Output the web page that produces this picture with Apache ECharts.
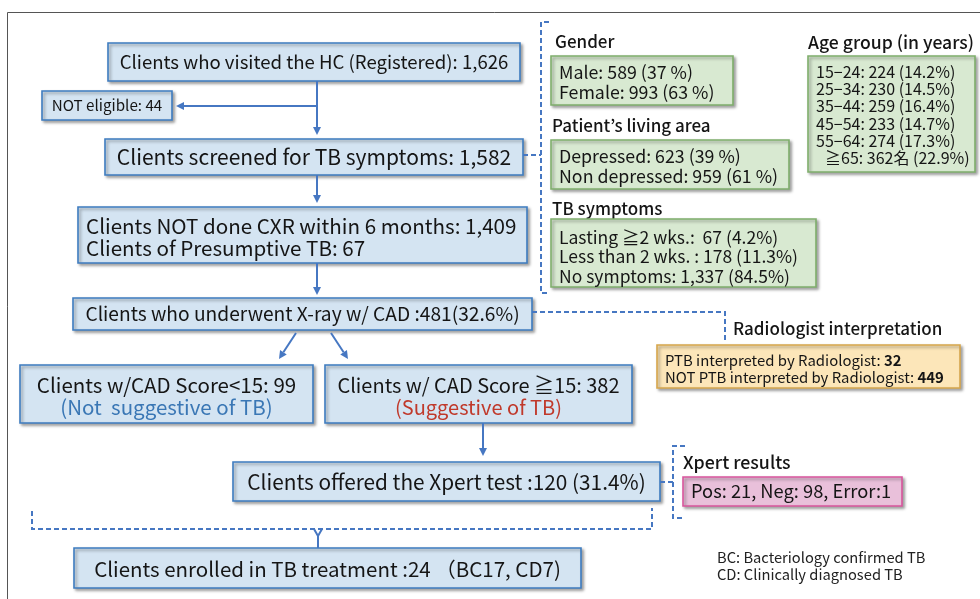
<!DOCTYPE html>
<html>
<head>
<meta charset="utf-8">
<script src="https://cdn.jsdelivr.net/npm/echarts@6/dist/echarts.min.js"></script>
<style>
html,body{margin:0;padding:0;background:#fff;}
#c{width:980px;height:599px;}
</style>
</head>
<body>
<div id="c"></div>
<script>
// ---------- DATA (texts / values) ----------
const registeredText = ['Clients who visited the HC (Registered): 1,626'];
const notEligibleText = ['NOT eligible: 44'];
const screenedText = ['Clients screened for TB symptoms: 1,582'];
const cxrText = ['Clients NOT done CXR within 6 months: 1,409', 'Clients of Presumptive TB: 67'];
const xrayText = ['Clients who underwent X-ray w/ CAD :481(32.6%)'];
const cadLowText = ['Clients w/CAD Score<15: 99', '(Not  suggestive of TB)'];
const cadHighText = ['Clients w/ CAD Score \u226715: 382', '(Suggestive of TB)'];
const xpertOfferedText = ['Clients offered the Xpert test :120 (31.4%)'];
const enrolledText = ['Clients enrolled in TB treatment :24 \uFF08BC17, CD7)'];

const genderTitle = 'Gender';
const genderLines = ['Male: 589 (37 %)', 'Female: 993 (63 %)'];
const livingTitle = 'Patient\u2019s living area';
const livingLines = ['Depressed: 623 (39 %)', 'Non depressed: 959 (61 %)'];
const symptomTitle = 'TB symptoms';
const symptomLines = ['Lasting \u22672 wks.:  67 (4.2%)', 'Less than 2 wks. : 178 (11.3%)', 'No symptoms: 1,337 (84.5%)'];
const ageTitle = 'Age group (in years)';
const ageLines = ['15\u221224: 224 (14.2%)', '25\u221234: 230 (14.5%)', '35\u221244: 259 (16.4%)', '45\u221254: 233 (14.7%)', '55\u221264: 274 (17.3%)', '\u226765: 362\u540D (22.9%)'];
const radiologistTitle = 'Radiologist interpretation';
const radiologistLabels = ['PTB interpreted by Radiologist: ', 'NOT PTB interpreted by Radiologist: '];
const radiologistValues = ['32', '449'];
const xpertTitle = 'Xpert results';
const xpertLines = ['Pos: 21, Neg: 98, Error:1'];
const footnoteLines = ['BC: Bacteriology confirmed TB', 'CD: Clinically diagnosed TB'];

// ---------- LAYOUT / STYLE ----------
const FONT = '"Noto Sans CJK KR", "Noto Sans", sans-serif';
const BLUE = {fill: '#d4e4f2', stroke: '#3e7cc0'};
const GREEN = {fill: '#d8e9d1', stroke: '#7fae6c'};
const YELLOW = {fill: '#fce6b9', stroke: '#d6a64c'};
const PINK = {fill: '#e9c0da', stroke: '#d9569d'};
const LINE = '#4677c2';

const els = [];
function font(size, weight) { return (weight || 'normal') + ' ' + size + 'px ' + FONT; }
function rect(x, y, w, h, c) {
  els.push({type: 'rect', shape: {x: x, y: y, width: w, height: h},
    style: {fill: c.fill, stroke: c.stroke, lineWidth: 1.6, shadowBlur: 3, shadowOffsetX: 2, shadowOffsetY: 2, shadowColor: 'rgba(0,0,0,0.35)'}});
}
function text(x, y, t, size, opt) {
  opt = opt || {};
  const st = {text: t, font: font(size, opt.weight), fill: opt.color || '#151515',
    textAlign: opt.align || 'left', textVerticalAlign: 'middle'};
  if (opt.rich) st.rich = opt.rich;
  els.push({type: 'text', x: x, y: y, style: st});
}
function boxLines(b, lines, c, size, ys, align, colors) {
  rect(b[0], b[1], b[2], b[3], c);
  lines.forEach(function (ln, i) {
    const x = align === 'center' ? b[0] + b[2] / 2 : b[0] + (b[4] || 8);
    text(x, ys[i], ln, size, {align: align, color: colors ? colors[i] : null});
  });
}
function line(pts, dashed) {
  els.push({type: 'polyline', shape: {points: pts},
    style: {stroke: LINE, lineWidth: 2, fill: null, lineDash: dashed ? [5, 3] : null}});
}
function arrow(x1, y1, x2, y2) {
  const dx = x2 - x1, dy = y2 - y1, L = Math.sqrt(dx * dx + dy * dy);
  const ux = dx / L, uy = dy / L, hl = 8, hw = 4;
  const bx = x2 - ux * hl, by = y2 - uy * hl;
  line([[x1, y1], [bx, by]]);
  els.push({type: 'polygon', shape: {points: [[x2, y2], [bx - uy * hw, by + ux * hw], [bx + uy * hw, by - ux * hw]]},
    style: {fill: LINE}});
}

// outer frame
els.push({type: 'rect', shape: {x: 7.5, y: 12.5, width: 1000, height: 700}, style: {fill: null, stroke: '#555', lineWidth: 1}});

// main flow
boxLines([108, 43, 412, 38], registeredText, BLUE, 18.6, [62], 'center');
boxLines([42, 91, 130, 29], notEligibleText, BLUE, 15.2, [105.5], 'center');
boxLines([105, 139, 418, 36], screenedText, BLUE, 21, [157], 'center');
boxLines([78, 207, 449, 56, 8], cxrText, BLUE, 20.6, [226, 248], 'left');
boxLines([73, 298, 459, 32], xrayText, BLUE, 19.2, [314], 'center');
boxLines([20, 365, 293, 58], cadLowText, BLUE, 20.5, [385, 407], 'center', ['#151515', '#3a77b5']);
boxLines([325, 365, 307, 58], cadHighText, BLUE, 20, [385, 407], 'center', ['#151515', '#c0392b']);
boxLines([233, 462, 427, 39], xpertOfferedText, BLUE, 20.8, [482], 'center');
boxLines([74, 548, 507, 40], enrolledText, BLUE, 20.5, [569], 'center');

// arrows
line([[317, 81], [317, 106]]);
arrow(317, 106, 176, 106);
arrow(317, 106, 317, 135);
arrow(317, 175, 317, 203);
arrow(317, 263, 317, 295);
arrow(296, 333, 279, 359);
arrow(331, 333, 348, 359);
arrow(483, 423, 483, 456);

// bottom dashed bracket
line([[32, 511], [32, 529], [652, 529], [652, 508]], true);
line([[314, 529], [318, 536], [322, 529]]);
line([[318, 535], [318, 548]]);

// right bracket (demographics)
line([[549, 22], [541, 22], [541, 293], [549, 293]], true);
line([[523, 155], [541, 155]], true);

// demographics
text(555, 42, genderTitle, 17, {weight: 500});
boxLines([551, 56, 182, 49], genderLines, GREEN, 17.8, [72, 92], 'left');
text(552, 126, livingTitle, 17, {weight: 500});
boxLines([551, 140, 238, 49], livingLines, GREEN, 17.8, [156, 176], 'left');
text(552, 209, symptomTitle, 17, {weight: 500});
boxLines([551, 219, 265, 68], symptomLines, GREEN, 17.5, [237, 256.5, 276], 'left');
text(808, 42, ageTitle, 17.6, {weight: 500});
rect(808, 56, 167, 116, GREEN);
ageLines.forEach(function (ln, i) {
  text(i === 5 ? 825 : 816, 72 + i * 17.2, ln, 16);
});

// radiologist
line([[532, 312], [725, 312], [725, 340]], true);
text(733, 329, radiologistTitle, 17, {weight: 500});
rect(657, 345, 303, 43, YELLOW);
radiologistLabels.forEach(function (lb, i) {
  text(665, 360 + i * 17, '{n|' + lb + '}{b|' + radiologistValues[i] + '}', 14.9, {
    rich: {n: {font: font(14.9), fill: '#151515'}, b: {font: font(14.9, 'bold'), fill: '#151515'}}
  });
});

// xpert
line([[660, 482], [673, 482]], true);
line([[685, 446], [673, 446], [673, 518], [685, 518]], true);
text(683, 462, xpertTitle, 17.8, {weight: 500});
boxLines([683, 477, 219, 29], xpertLines, PINK, 18.3, [491.5], 'left');

// footnote
footnoteLines.forEach(function (ln, i) {
  text(717, 557 + i * 17, ln, 14.7, {color: '#222'});
});

const chart = echarts.init(document.getElementById('c'));
chart.setOption({backgroundColor: '#fff', animation: false, graphic: {elements: els}});
</script>
</body>
</html>
